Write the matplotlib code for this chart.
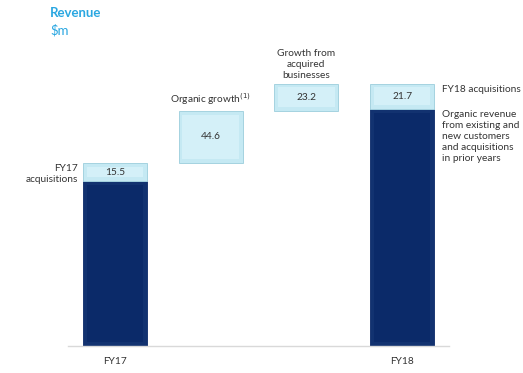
import matplotlib
matplotlib.use("Agg")
import matplotlib.pyplot as plt

plt.rcParams['font.family'] = ['Lato', 'DejaVu Sans']

# Data ($m)
categories = ["FY17", "", "", "FY18"]
fy17_organic = 141.0
fy17_acq = 15.5
organic_growth = 44.6
acquired_growth = 23.2
fy18_acq = 21.7
fy18_total = fy17_organic + fy17_acq + organic_growth + acquired_growth
fy18_organic = fy18_total - fy18_acq

dark = "#0b2a69"
dark_bevel = "#123270"
light = "#d4f0f8"
light_bevel = "#c5e9f3"
light_edge = "#a5d3e0"
txt = "#333333"
fs = 7.3

fig = plt.figure(figsize=(5.23, 3.73), dpi=100)
ax = fig.add_axes([68/523, 1-346/373, 381/523, 304/373])
ax.set_xlim(-0.49, 3.49)
ax.set_ylim(0, 260)
for s in ["top", "right", "left"]:
    ax.spines[s].set_visible(False)
ax.spines["bottom"].set_color("#d9d9d9")
ax.spines["bottom"].set_linewidth(1.0)
ax.set_yticks([])
ax.set_xticks([0, 3])
ax.set_xticklabels(["FY17", "FY18"], fontsize=fs, color=txt)
ax.tick_params(axis="x", length=0, pad=8)

w = 0.67
dx = 0.04    # bevel inset (x units)
dy = 3.2     # bevel inset (y units)

# dark bases with bevel
base_x = [0, 3]
base_h = [fy17_organic, fy18_organic]
ax.bar(base_x, base_h, width=w, color=dark_bevel, edgecolor=dark,
       linewidth=0.6, zorder=2)
ax.bar(base_x, [h - 2*dy for h in base_h], bottom=dy, width=w - 2*dx,
       color=dark, linewidth=0, zorder=2.1)

# light stacks with bevel
lb = [fy17_organic, fy17_organic + fy17_acq,
      fy17_organic + fy17_acq + organic_growth, fy18_organic]
lh = [fy17_acq, organic_growth, acquired_growth, fy18_acq]
xs = [0, 1, 2, 3]
ax.bar(xs, lh, bottom=lb, width=w, color=light_bevel,
       edgecolor=light_edge, linewidth=0.7, zorder=2)
ax.bar(xs, [h - 2*dy for h in lh], bottom=[b + dy for b in lb],
       width=w - 2*dx, color=light, linewidth=0, zorder=2.1)
for i, (b, h) in enumerate(zip(lb, lh)):
    ax.text(i, b + h/2, f"{h:.1f}", ha="center", va="center",
            fontsize=fs, color=txt, zorder=3)

# annotations
ax.text(-0.39, fy17_organic + fy17_acq - 1, "FY17\nacquisitions", ha="right",
        va="top", fontsize=fs, color=txt, linespacing=1.3)
ax.text(1, lb[1] + lh[1] + 3, "Organic growth$^{(1)}$", ha="center",
        va="bottom", fontsize=fs, color=txt)
ax.text(2, lb[2] + lh[2] + 3, "Growth from\nacquired\nbusinesses",
        ha="center", va="bottom", fontsize=fs, color=txt, linespacing=1.3)
ax.text(3.42, fy18_total - 1.5, "FY18 acquisitions", ha="left", va="top",
        fontsize=fs, color=txt)
ax.text(3.42, fy18_organic - 0.5, "Organic revenue\nfrom existing and\nnew customers\nand acquisitions\nin prior years",
        ha="left", va="top", fontsize=fs, color=txt, linespacing=1.3)

fig.text(50/523, 1-13/373, "Revenue", fontsize=9.5, fontweight="bold",
         color="#2aa7e1", va="center", ha="left")
fig.text(50/523, 1-30/373, "$m", fontsize=9.5, color="#2aa7e1",
         va="center", ha="left")

fig.savefig("out.png", dpi=100)
